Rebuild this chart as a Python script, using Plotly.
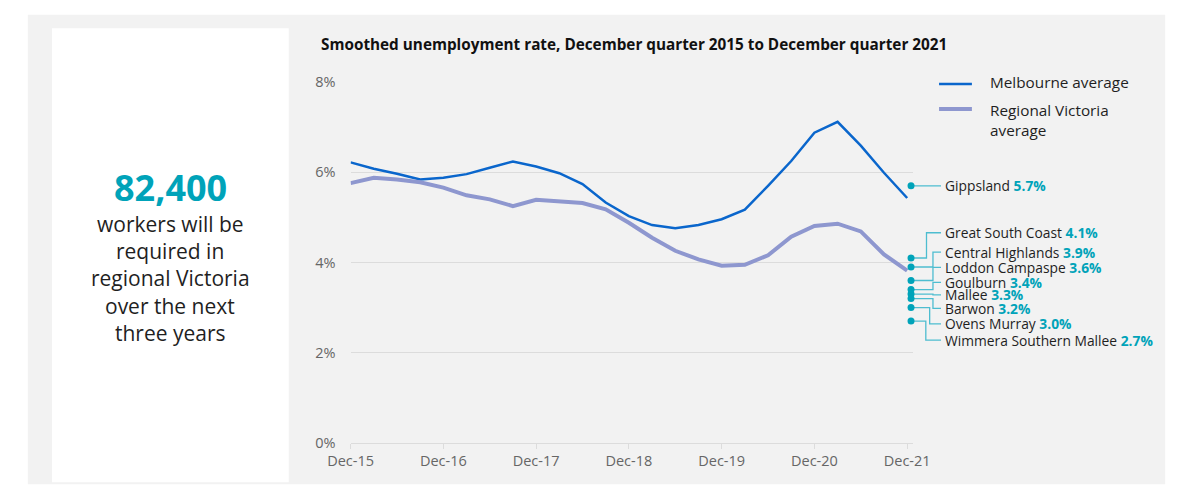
import plotly.graph_objects as go

W, H = 1187, 498

# ---------------- data ----------------
quarters = [
    "Dec-15", "Mar-16", "Jun-16", "Sep-16", "Dec-16", "Mar-17", "Jun-17", "Sep-17",
    "Dec-17", "Mar-18", "Jun-18", "Sep-18", "Dec-18", "Mar-19", "Jun-19", "Sep-19",
    "Dec-19", "Mar-20", "Jun-20", "Sep-20", "Dec-20", "Mar-21", "Jun-21", "Sep-21",
    "Dec-21",
]
melbourne = [6.22, 6.08, 5.97, 5.84, 5.88, 5.96, 6.10, 6.24, 6.13, 5.98, 5.74, 5.33,
             5.03, 4.83, 4.76, 4.83, 4.96, 5.17, 5.70, 6.25, 6.88, 7.12, 6.59, 5.99, 5.43]
regional = [5.76, 5.88, 5.84, 5.78, 5.66, 5.49, 5.40, 5.25, 5.39, 5.36, 5.32, 5.18,
            4.88, 4.55, 4.26, 4.07, 3.93, 3.95, 4.16, 4.57, 4.81, 4.86, 4.69, 4.18, 3.82]

regions = ["Gippsland", "Great South Coast", "Central Highlands", "Loddon Campaspe",
           "Goulburn", "Mallee", "Barwon", "Ovens Murray", "Wimmera Southern Mallee"]
region_rates = [5.7, 4.1, 3.9, 3.6, 3.4, 3.3, 3.2, 3.0, 2.7]

y_ticks = [0, 2, 4, 6, 8]
x_tick_labels = quarters[::4]

headline_value = "82,400"
headline_lines = ["workers will be", "required in", "regional Victoria", "over the next", "three years"]
title_text = "Smoothed unemployment rate, December quarter 2015 to December quarter 2021"

# ---------------- layout helpers (positions / styles) ----------------
FONT = "Open Sans"
BLUE = "#0a66cc"
LAV = "#8e97cf"
TEAL = "#00a3b9"
TEAL_LINE = "#4dbdd0"
TEXT = "#1f1f1f"
GRAY_TXT = "#666666"
GRID = "#dcdcdc"

def px(x):
    return x / W

def py(y):
    return 1 - y / H

X_LEFT, X_RIGHT = 339, 921
Y_TOP, Y_BOT = 75, 450
STEP = 24.0  # pixels per quarter

# label layout positions (in y-data units) for the regional call-outs
label_y = [5.70, 4.66, 4.23, 3.89, 3.56, 3.28, 2.98, 2.64, 2.28]
elbow_px = [941.7, 935, 941.7, 941.7, 941.7, 941.7, 941.7, 938.3, 934.3]
dot_px = 919
end_px = 950
text_px = 952

def to_x2(p):
    return (p - X_LEFT) / STEP

xidx = list(range(len(quarters)))

fig = go.Figure()

fig.add_trace(go.Scatter(x=xidx, y=melbourne, mode="lines", name="Melbourne average",
                         line=dict(color=BLUE, width=2.5), xaxis="x", yaxis="y",
                         hoverinfo="skip", showlegend=False))
fig.add_trace(go.Scatter(x=xidx, y=regional, mode="lines", name="Regional Victoria average",
                         line=dict(color=LAV, width=4), xaxis="x", yaxis="y",
                         hoverinfo="skip", showlegend=False))

annotations = []

# connectors + labels
for i, (r, v) in enumerate(zip(regions, region_rates)):
    ex = to_x2(elbow_px[i])
    fig.add_trace(go.Scatter(
        x=[to_x2(dot_px), ex, ex, to_x2(end_px)],
        y=[v, v, label_y[i], label_y[i]],
        mode="lines", line=dict(color=TEAL_LINE, width=1.3),
        xaxis="x2", yaxis="y2", hoverinfo="skip", showlegend=False))
    annotations.append(dict(
        x=to_x2(text_px), y=label_y[i], xref="x2", yref="y2",
        text=f"{r} <b><span style='color:{TEAL}'>{v:.1f}%</span></b>",
        showarrow=False, xanchor="left", yanchor="middle",
        font=dict(family=FONT, size=13.8, color=TEXT)))

fig.add_trace(go.Scatter(
    x=[to_x2(dot_px)] * len(region_rates), y=region_rates, mode="markers",
    marker=dict(color=TEAL, size=7), xaxis="x2", yaxis="y2",
    hoverinfo="skip", showlegend=False, cliponaxis=False))

shapes = [
    # outer grey panel
    dict(type="rect", xref="paper", yref="paper", x0=px(5), x1=px(1182), y0=py(493), y1=py(5),
         fillcolor="#f2f2f2", line=dict(width=0), layer="below"),
    # left white panel
    dict(type="rect", xref="paper", yref="paper", x0=px(30), x1=px(275), y0=py(491), y1=py(19),
         fillcolor="#ffffff", line=dict(width=0), layer="below"),
    # legend swatches
    dict(type="line", xref="paper", yref="paper", x0=px(948), x1=px(982), y0=py(77), y1=py(77),
         line=dict(color=BLUE, width=2.5)),
    dict(type="line", xref="paper", yref="paper", x0=px(948), x1=px(982), y0=py(103), y1=py(103),
         line=dict(color=LAV, width=4)),
]

annotations += [
    dict(x=px(306), y=py(35), xref="paper", yref="paper", text=f"<b>{title_text}</b>",
         showarrow=False, xanchor="left", yanchor="middle",
         font=dict(family=FONT, size=15.3, color="#111111")),
    dict(x=px(999), y=py(75), xref="paper", yref="paper", text="Melbourne average",
         showarrow=False, xanchor="left", yanchor="middle",
         font=dict(family=FONT, size=15.3, color=TEXT)),
    dict(x=px(999), y=py(114), xref="paper", yref="paper", text="Regional Victoria<br>average",
         showarrow=False, xanchor="left", yanchor="middle", align="left",
         font=dict(family=FONT, size=15.3, color=TEXT)),
    dict(x=px(152.5), y=py(185), xref="paper", yref="paper", text=f"<b>{headline_value}</b>",
         showarrow=False, xanchor="center", yanchor="middle",
         font=dict(family=FONT, size=36, color=TEAL)),
]
for k, line in enumerate(headline_lines):
    annotations.append(dict(x=px(152.5), y=py(222 + 28.5 * k), xref="paper", yref="paper",
                            text=line, showarrow=False, xanchor="center", yanchor="middle",
                            font=dict(family=FONT, size=21, color=TEXT)))

fig.update_layout(
    width=W, height=H, autosize=False,
    margin=dict(l=0, r=0, t=0, b=0),
    paper_bgcolor="#ffffff", plot_bgcolor="rgba(0,0,0,0)",
    font=dict(family=FONT, size=14, color=GRAY_TXT),
    xaxis=dict(domain=[px(X_LEFT), px(X_RIGHT)], range=[0, (X_RIGHT - X_LEFT) / STEP],
               tickmode="array", tickvals=xidx[::4], ticktext=x_tick_labels,
               showgrid=False, zeroline=False, showline=True, linecolor=GRID, linewidth=1,
               ticks="outside", ticklen=5, tickcolor=GRID, tickfont=dict(size=14.5, color=GRAY_TXT),
               anchor="y", fixedrange=True),
    yaxis=dict(domain=[1 - Y_BOT / H, 1 - Y_TOP / H], range=[0, 8],
               tickmode="array", tickvals=y_ticks, ticktext=[f"{v}%" for v in y_ticks],
               showgrid=True, gridcolor=GRID, gridwidth=1, zeroline=False, showline=False,
               ticks="", ticklabelstandoff=14, tickfont=dict(size=14.5, color=GRAY_TXT),
               anchor="x", fixedrange=True),
    xaxis2=dict(domain=[px(X_LEFT), 1], range=[0, (W - X_LEFT) / STEP], visible=False,
                anchor="y2", fixedrange=True),
    yaxis2=dict(domain=[1 - Y_BOT / H, 1 - Y_TOP / H], range=[0, 8], visible=False,
                anchor="x2", fixedrange=True),
    shapes=shapes,
    annotations=annotations,
    showlegend=False,
)

fig.write_html("out.html", config={"displayModeBar": False, "staticPlot": True},
               post_script="document.body.style.margin='0';document.body.style.overflow='hidden';")
